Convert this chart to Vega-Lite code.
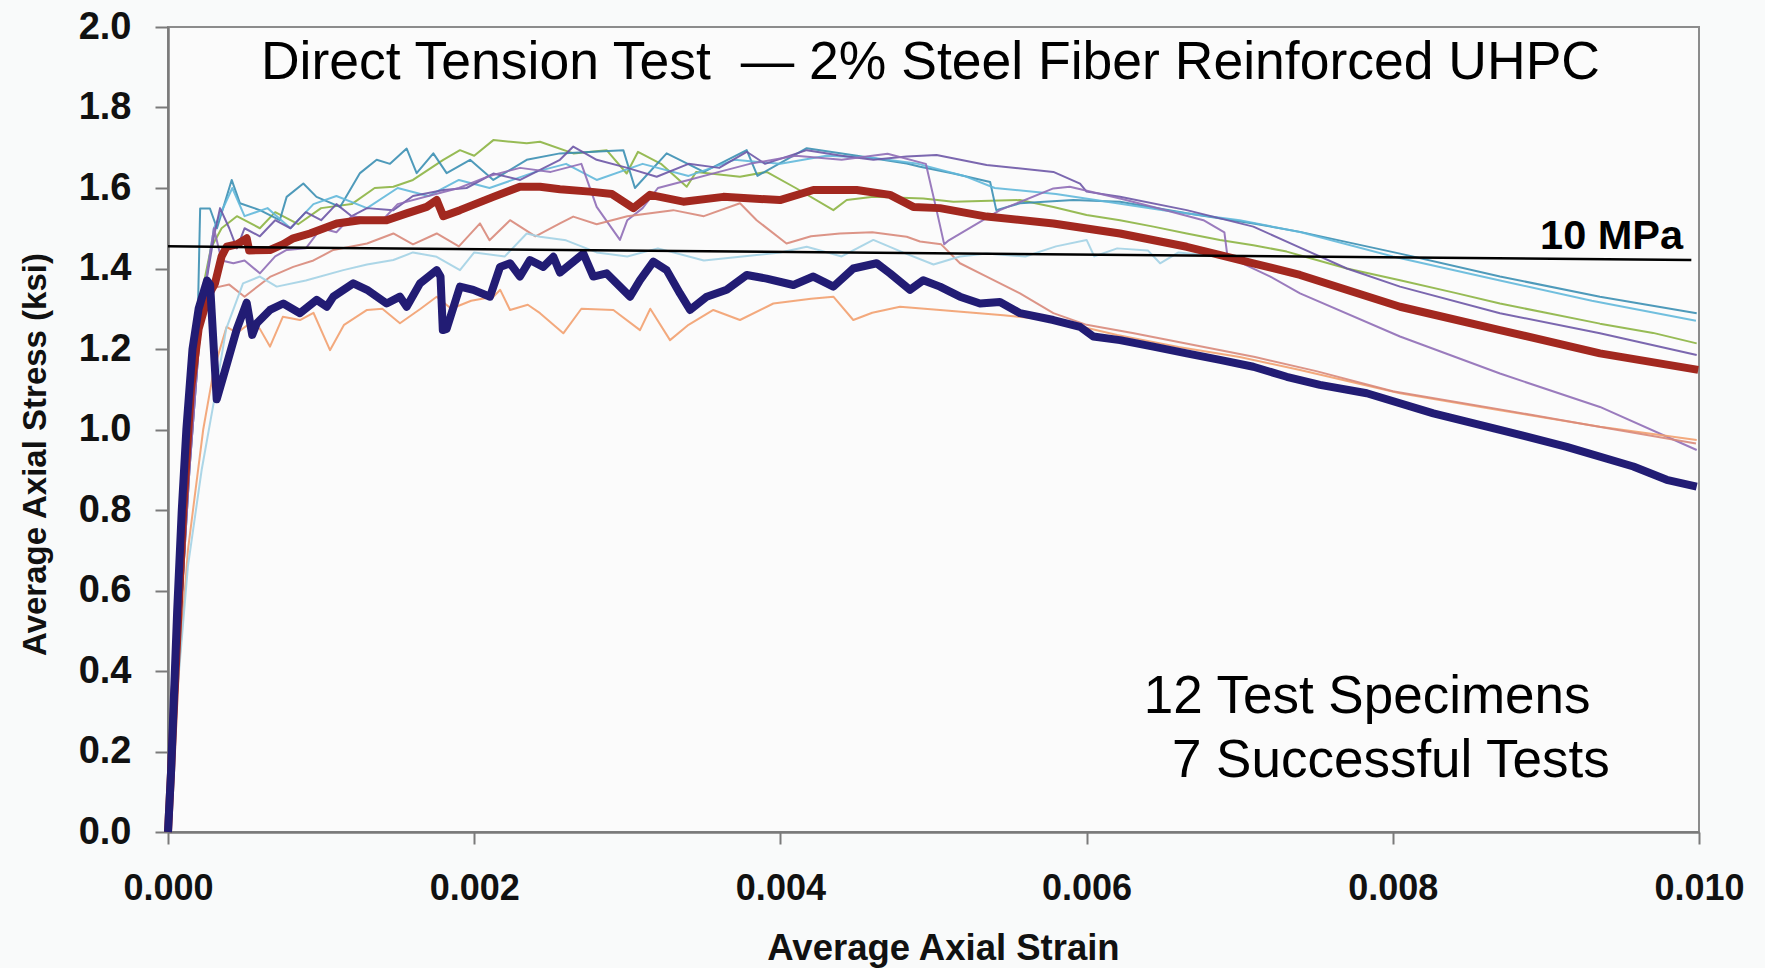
{
  "$schema": "https://vega.github.io/schema/vega-lite/v6.json",
  "width": 1531,
  "height": 805,
  "autosize": {"type": "none"},
  "padding": {"left": 168, "top": 27, "right": 66, "bottom": 136},
  "background": "#f9fafa",
  "config": {
    "view": {"stroke": "#8c8c8c", "strokeWidth": 2, "fill": "#fbfbfb"},
    "font": "Liberation Sans"
  },
  "datasets": {
    "c": [
      {"s":"navy","e":0,"t":0},{"s":"navy","e":0.00002,"t":0.15},{"s":"navy","e":0.00004,"t":0.35},{"s":"navy","e":0.00006,"t":0.55},{"s":"navy","e":0.00009,"t":0.8},{"s":"navy","e":0.00012,"t":1.0},{"s":"navy","e":0.00016,"t":1.2},{"s":"navy","e":0.0002,"t":1.3},{"s":"navy","e":0.000255,"t":1.37},{"s":"navy","e":0.000275,"t":1.36},{"s":"navy","e":0.000318,"t":1.075},{"s":"navy","e":0.00036,"t":1.13},{"s":"navy","e":0.00045,"t":1.25},{"s":"navy","e":0.000514,"t":1.315},{"s":"navy","e":0.00055,"t":1.235},{"s":"navy","e":0.00058,"t":1.264},{"s":"navy","e":0.000666,"t":1.297},{"s":"navy","e":0.000753,"t":1.313},{"s":"navy","e":0.000862,"t":1.289},{"s":"navy","e":0.000971,"t":1.322},{"s":"navy","e":0.001037,"t":1.305},{"s":"navy","e":0.00108,"t":1.33},{"s":"navy","e":0.00121,"t":1.363},{"s":"navy","e":0.0013,"t":1.347},{"s":"navy","e":0.001428,"t":1.313},{"s":"navy","e":0.001515,"t":1.33},{"s":"navy","e":0.001559,"t":1.305},{"s":"navy","e":0.001646,"t":1.363},{"s":"navy","e":0.001755,"t":1.396},{"s":"navy","e":0.00178,"t":1.38},{"s":"navy","e":0.001795,"t":1.247},{"s":"navy","e":0.00182,"t":1.25},{"s":"navy","e":0.001907,"t":1.355},{"s":"navy","e":0.001994,"t":1.347},{"s":"navy","e":0.002103,"t":1.33},{"s":"navy","e":0.002169,"t":1.404},{"s":"navy","e":0.002234,"t":1.413},{"s":"navy","e":0.002299,"t":1.38},{"s":"navy","e":0.002364,"t":1.421},{"s":"navy","e":0.002451,"t":1.404},{"s":"navy","e":0.002517,"t":1.429},{"s":"navy","e":0.00256,"t":1.39},{"s":"navy","e":0.002713,"t":1.437},{"s":"navy","e":0.002778,"t":1.38},{"s":"navy","e":0.002865,"t":1.388},{"s":"navy","e":0.003018,"t":1.33},{"s":"navy","e":0.003083,"t":1.371},{"s":"navy","e":0.00317,"t":1.417},{"s":"navy","e":0.003257,"t":1.396},{"s":"navy","e":0.003344,"t":1.338},{"s":"navy","e":0.00341,"t":1.297},{"s":"navy","e":0.003519,"t":1.33},{"s":"navy","e":0.003649,"t":1.347},{"s":"navy","e":0.00378,"t":1.384},{"s":"navy","e":0.00391,"t":1.375},{"s":"navy","e":0.004085,"t":1.359},{"s":"navy","e":0.004215,"t":1.38},{"s":"navy","e":0.004346,"t":1.355},{"s":"navy","e":0.004476,"t":1.4},{"s":"navy","e":0.004629,"t":1.413},{"s":"navy","e":0.004716,"t":1.388},{"s":"navy","e":0.004847,"t":1.347},{"s":"navy","e":0.004933,"t":1.371},{"s":"navy","e":0.005042,"t":1.355},{"s":"navy","e":0.005173,"t":1.33},{"s":"navy","e":0.005304,"t":1.313},{"s":"navy","e":0.005434,"t":1.317},{"s":"navy","e":0.005565,"t":1.289},{"s":"navy","e":0.005783,"t":1.272},{"s":"navy","e":0.005957,"t":1.255},{"s":"navy","e":0.006044,"t":1.231},{"s":"navy","e":0.006218,"t":1.222},{"s":"navy","e":0.006436,"t":1.206},{"s":"navy","e":0.006654,"t":1.189},{"s":"navy","e":0.006871,"t":1.173},{"s":"navy","e":0.007089,"t":1.156},{"s":"navy","e":0.007307,"t":1.131},{"s":"navy","e":0.007524,"t":1.111},{"s":"navy","e":0.00783,"t":1.09},{"s":"navy","e":0.008265,"t":1.04},{"s":"navy","e":0.0087,"t":0.999},{"s":"navy","e":0.009136,"t":0.957},{"s":"navy","e":0.009571,"t":0.908},{"s":"navy","e":0.009789,"t":0.875},{"s":"navy","e":0.009985,"t":0.858},

      {"s":"red","e":0,"t":0},{"s":"red","e":0.00002,"t":0.15},{"s":"red","e":0.00005,"t":0.4},{"s":"red","e":0.0001,"t":0.8},{"s":"red","e":0.00015,"t":1.1},{"s":"red","e":0.0002,"t":1.25},{"s":"red","e":0.00026,"t":1.33},{"s":"red","e":0.000307,"t":1.363},{"s":"red","e":0.00035,"t":1.43},{"s":"red","e":0.000383,"t":1.454},{"s":"red","e":0.00045,"t":1.46},{"s":"red","e":0.000514,"t":1.475},{"s":"red","e":0.00053,"t":1.445},{"s":"red","e":0.000666,"t":1.446},{"s":"red","e":0.00075,"t":1.46},{"s":"red","e":0.000818,"t":1.475},{"s":"red","e":0.000927,"t":1.487},{"s":"red","e":0.001102,"t":1.512},{"s":"red","e":0.001254,"t":1.52},{"s":"red","e":0.001428,"t":1.52},{"s":"red","e":0.001559,"t":1.537},{"s":"red","e":0.00169,"t":1.553},{"s":"red","e":0.001755,"t":1.57},{"s":"red","e":0.001798,"t":1.53},{"s":"red","e":0.001907,"t":1.545},{"s":"red","e":0.002125,"t":1.578},{"s":"red","e":0.002299,"t":1.603},{"s":"red","e":0.00243,"t":1.603},{"s":"red","e":0.00256,"t":1.597},{"s":"red","e":0.002756,"t":1.591},{"s":"red","e":0.0029,"t":1.585},{"s":"red","e":0.00304,"t":1.55},{"s":"red","e":0.003148,"t":1.583},{"s":"red","e":0.003366,"t":1.566},{"s":"red","e":0.003627,"t":1.578},{"s":"red","e":0.003997,"t":1.57},{"s":"red","e":0.004215,"t":1.595},{"s":"red","e":0.004498,"t":1.595},{"s":"red","e":0.004716,"t":1.583},{"s":"red","e":0.004868,"t":1.553},{"s":"red","e":0.005042,"t":1.55},{"s":"red","e":0.005347,"t":1.529},{"s":"red","e":0.005783,"t":1.512},{"s":"red","e":0.006218,"t":1.487},{"s":"red","e":0.006654,"t":1.454},{"s":"red","e":0.007089,"t":1.413},{"s":"red","e":0.007394,"t":1.384},{"s":"red","e":0.008047,"t":1.305},{"s":"red","e":0.0087,"t":1.247},{"s":"red","e":0.009353,"t":1.189},{"s":"red","e":0.009995,"t":1.148},

      {"s":"green","e":0,"t":0},{"s":"green","e":0.00005,"t":0.4},{"s":"green","e":0.00012,"t":0.95},{"s":"green","e":0.0002,"t":1.3},{"s":"green","e":0.00028,"t":1.45},{"s":"green","e":0.00035,"t":1.5},{"s":"green","e":0.00045,"t":1.53},{"s":"green","e":0.0006,"t":1.5},{"s":"green","e":0.0007,"t":1.54},{"s":"green","e":0.00085,"t":1.51},{"s":"green","e":0.001,"t":1.55},{"s":"green","e":0.0012,"t":1.56},{"s":"green","e":0.00135,"t":1.6},{"s":"green","e":0.001472,"t":1.603},{"s":"green","e":0.0016,"t":1.62},{"s":"green","e":0.001798,"t":1.67},{"s":"green","e":0.001907,"t":1.694},{"s":"green","e":0.002,"t":1.68},{"s":"green","e":0.002125,"t":1.719},{"s":"green","e":0.002343,"t":1.711},{"s":"green","e":0.00243,"t":1.715},{"s":"green","e":0.002647,"t":1.686},{"s":"green","e":0.002865,"t":1.694},{"s":"green","e":0.002996,"t":1.636},{"s":"green","e":0.00307,"t":1.69},{"s":"green","e":0.00322,"t":1.66},{"s":"green","e":0.003388,"t":1.603},{"s":"green","e":0.00345,"t":1.64},{"s":"green","e":0.003736,"t":1.628},{"s":"green","e":0.00391,"t":1.64},{"s":"green","e":0.0041,"t":1.6},{"s":"green","e":0.004346,"t":1.545},{"s":"green","e":0.004433,"t":1.57},{"s":"green","e":0.004607,"t":1.578},{"s":"green","e":0.004933,"t":1.574},{"s":"green","e":0.00513,"t":1.566},{"s":"green","e":0.005565,"t":1.57},{"s":"green","e":0.005783,"t":1.553},{"s":"green","e":0.006,"t":1.533},{"s":"green","e":0.006218,"t":1.52},{"s":"green","e":0.006436,"t":1.504},{"s":"green","e":0.006654,"t":1.487},{"s":"green","e":0.006871,"t":1.471},{"s":"green","e":0.007089,"t":1.458},{"s":"green","e":0.007307,"t":1.442},{"s":"green","e":0.0077,"t":1.4},{"s":"green","e":0.008047,"t":1.371},{"s":"green","e":0.0084,"t":1.34},{"s":"green","e":0.0087,"t":1.313},{"s":"green","e":0.009,"t":1.29},{"s":"green","e":0.009353,"t":1.263},{"s":"green","e":0.0097,"t":1.24},{"s":"green","e":0.009985,"t":1.214},

      {"s":"teal","e":0,"t":0},{"s":"teal","e":0.00005,"t":0.3},{"s":"teal","e":0.00012,"t":0.8},{"s":"teal","e":0.00019,"t":1.2},{"s":"teal","e":0.00021,"t":1.549},{"s":"teal","e":0.000274,"t":1.549},{"s":"teal","e":0.00032,"t":1.5},{"s":"teal","e":0.000416,"t":1.62},{"s":"teal","e":0.00047,"t":1.562},{"s":"teal","e":0.0006,"t":1.545},{"s":"teal","e":0.00073,"t":1.52},{"s":"teal","e":0.000775,"t":1.578},{"s":"teal","e":0.000884,"t":1.611},{"s":"teal","e":0.00097,"t":1.578},{"s":"teal","e":0.001124,"t":1.553},{"s":"teal","e":0.001254,"t":1.637},{"s":"teal","e":0.001363,"t":1.67},{"s":"teal","e":0.00145,"t":1.66},{"s":"teal","e":0.001559,"t":1.698},{"s":"teal","e":0.001624,"t":1.637},{"s":"teal","e":0.001733,"t":1.686},{"s":"teal","e":0.00182,"t":1.637},{"s":"teal","e":0.001973,"t":1.67},{"s":"teal","e":0.002125,"t":1.62},{"s":"teal","e":0.002343,"t":1.67},{"s":"teal","e":0.00256,"t":1.686},{"s":"teal","e":0.002974,"t":1.694},{"s":"teal","e":0.00305,"t":1.6},{"s":"teal","e":0.003257,"t":1.686},{"s":"teal","e":0.0035,"t":1.64},{"s":"teal","e":0.00378,"t":1.694},{"s":"teal","e":0.00385,"t":1.63},{"s":"teal","e":0.004172,"t":1.699},{"s":"teal","e":0.0045,"t":1.68},{"s":"teal","e":0.004825,"t":1.661},{"s":"teal","e":0.004912,"t":1.653},{"s":"teal","e":0.00513,"t":1.636},{"s":"teal","e":0.00537,"t":1.615},{"s":"teal","e":0.00541,"t":1.545},{"s":"teal","e":0.005565,"t":1.562},{"s":"teal","e":0.005913,"t":1.57},{"s":"teal","e":0.006218,"t":1.566},{"s":"teal","e":0.006654,"t":1.537},{"s":"teal","e":0.007089,"t":1.512},{"s":"teal","e":0.007394,"t":1.491},{"s":"teal","e":0.008047,"t":1.437},{"s":"teal","e":0.0087,"t":1.38},{"s":"teal","e":0.009353,"t":1.33},{"s":"teal","e":0.009985,"t":1.289},

      {"s":"cyan","e":0,"t":0},{"s":"cyan","e":0.00006,"t":0.4},{"s":"cyan","e":0.00014,"t":0.9},{"s":"cyan","e":0.00022,"t":1.3},{"s":"cyan","e":0.0003,"t":1.5},{"s":"cyan","e":0.00042,"t":1.6},{"s":"cyan","e":0.0005,"t":1.53},{"s":"cyan","e":0.00065,"t":1.55},{"s":"cyan","e":0.0008,"t":1.5},{"s":"cyan","e":0.00095,"t":1.56},{"s":"cyan","e":0.0011,"t":1.58},{"s":"cyan","e":0.0013,"t":1.55},{"s":"cyan","e":0.0015,"t":1.6},{"s":"cyan","e":0.0017,"t":1.58},{"s":"cyan","e":0.0019,"t":1.62},{"s":"cyan","e":0.0021,"t":1.6},{"s":"cyan","e":0.0024,"t":1.64},{"s":"cyan","e":0.0026,"t":1.66},{"s":"cyan","e":0.0028,"t":1.62},{"s":"cyan","e":0.0031,"t":1.66},{"s":"cyan","e":0.0034,"t":1.63},{"s":"cyan","e":0.0037,"t":1.67},{"s":"cyan","e":0.004,"t":1.66},{"s":"cyan","e":0.0043,"t":1.68},{"s":"cyan","e":0.0046,"t":1.675},{"s":"cyan","e":0.0049,"t":1.66},{"s":"cyan","e":0.0052,"t":1.63},{"s":"cyan","e":0.0054,"t":1.6},{"s":"cyan","e":0.0058,"t":1.585},{"s":"cyan","e":0.0065,"t":1.545},{"s":"cyan","e":0.007,"t":1.52},{"s":"cyan","e":0.0074,"t":1.49},{"s":"cyan","e":0.008,"t":1.43},{"s":"cyan","e":0.0087,"t":1.37},{"s":"cyan","e":0.0093,"t":1.32},{"s":"cyan","e":0.00998,"t":1.27},

      {"s":"purple","e":0,"t":0},{"s":"purple","e":0.00006,"t":0.4},{"s":"purple","e":0.00014,"t":0.9},{"s":"purple","e":0.00022,"t":1.3},{"s":"purple","e":0.0003,"t":1.48},{"s":"purple","e":0.00034,"t":1.55},{"s":"purple","e":0.0004,"t":1.5},{"s":"purple","e":0.00045,"t":1.45},{"s":"purple","e":0.0005,"t":1.5},{"s":"purple","e":0.0006,"t":1.48},{"s":"purple","e":0.0007,"t":1.52},{"s":"purple","e":0.0008,"t":1.5},{"s":"purple","e":0.0009,"t":1.54},{"s":"purple","e":0.001,"t":1.52},{"s":"purple","e":0.0011,"t":1.56},{"s":"purple","e":0.0012,"t":1.53},{"s":"purple","e":0.0013,"t":1.55},{"s":"purple","e":0.001472,"t":1.545},{"s":"purple","e":0.0016,"t":1.58},{"s":"purple","e":0.0018,"t":1.595},{"s":"purple","e":0.00195,"t":1.6},{"s":"purple","e":0.002125,"t":1.636},{"s":"purple","e":0.0023,"t":1.62},{"s":"purple","e":0.00256,"t":1.67},{"s":"purple","e":0.002647,"t":1.703},{"s":"purple","e":0.0028,"t":1.67},{"s":"purple","e":0.003,"t":1.65},{"s":"purple","e":0.003192,"t":1.628},{"s":"purple","e":0.0034,"t":1.66},{"s":"purple","e":0.0036,"t":1.65},{"s":"purple","e":0.00378,"t":1.69},{"s":"purple","e":0.0039,"t":1.66},{"s":"purple","e":0.004172,"t":1.694},{"s":"purple","e":0.0044,"t":1.68},{"s":"purple","e":0.004607,"t":1.67},{"s":"purple","e":0.004825,"t":1.678},{"s":"purple","e":0.00502,"t":1.682},{"s":"purple","e":0.005347,"t":1.657},{"s":"purple","e":0.005783,"t":1.64},{"s":"purple","e":0.005957,"t":1.611},{"s":"purple","e":0.006,"t":1.591},{"s":"purple","e":0.006218,"t":1.578},{"s":"purple","e":0.006654,"t":1.545},{"s":"purple","e":0.007089,"t":1.504},{"s":"purple","e":0.007394,"t":1.452},{"s":"purple","e":0.0077,"t":1.4},{"s":"purple","e":0.008047,"t":1.355},{"s":"purple","e":0.0087,"t":1.289},{"s":"purple","e":0.009353,"t":1.239},{"s":"purple","e":0.009985,"t":1.185},

      {"s":"violet","e":0,"t":0},{"s":"violet","e":0.00006,"t":0.4},{"s":"violet","e":0.00014,"t":0.9},{"s":"violet","e":0.0002,"t":1.2},{"s":"violet","e":0.00026,"t":1.4},{"s":"violet","e":0.0003,"t":1.5},{"s":"violet","e":0.00035,"t":1.42},{"s":"violet","e":0.000427,"t":1.413},{"s":"violet","e":0.0005,"t":1.42},{"s":"violet","e":0.0006,"t":1.388},{"s":"violet","e":0.0007,"t":1.43},{"s":"violet","e":0.000775,"t":1.446},{"s":"violet","e":0.0009,"t":1.45},{"s":"violet","e":0.001,"t":1.5},{"s":"violet","e":0.0011,"t":1.49},{"s":"violet","e":0.0012,"t":1.53},{"s":"violet","e":0.0014,"t":1.52},{"s":"violet","e":0.0015,"t":1.56},{"s":"violet","e":0.0017,"t":1.58},{"s":"violet","e":0.0019,"t":1.6},{"s":"violet","e":0.0021,"t":1.63},{"s":"violet","e":0.0023,"t":1.65},{"s":"violet","e":0.0025,"t":1.64},{"s":"violet","e":0.0027,"t":1.66},{"s":"violet","e":0.0028,"t":1.553},{"s":"violet","e":0.002952,"t":1.471},{"s":"violet","e":0.003,"t":1.52},{"s":"violet","e":0.0031,"t":1.55},{"s":"violet","e":0.0032,"t":1.6},{"s":"violet","e":0.0034,"t":1.62},{"s":"violet","e":0.0036,"t":1.64},{"s":"violet","e":0.0038,"t":1.66},{"s":"violet","e":0.0041,"t":1.68},{"s":"violet","e":0.0044,"t":1.67},{"s":"violet","e":0.0047,"t":1.685},{"s":"violet","e":0.00495,"t":1.66},{"s":"violet","e":0.00502,"t":1.545},{"s":"violet","e":0.00507,"t":1.46},{"s":"violet","e":0.0051,"t":1.47},{"s":"violet","e":0.005434,"t":1.545},{"s":"violet","e":0.005783,"t":1.599},{"s":"violet","e":0.00589,"t":1.603},{"s":"violet","e":0.006218,"t":1.574},{"s":"violet","e":0.006436,"t":1.553},{"s":"violet","e":0.006763,"t":1.52},{"s":"violet","e":0.0069,"t":1.49},{"s":"violet","e":0.00692,"t":1.43},{"s":"violet","e":0.0072,"t":1.38},{"s":"violet","e":0.007394,"t":1.338},{"s":"violet","e":0.008047,"t":1.231},{"s":"violet","e":0.0087,"t":1.139},{"s":"violet","e":0.009353,"t":1.056},{"s":"violet","e":0.009985,"t":0.949},

      {"s":"orange","e":0,"t":0},{"s":"orange","e":0.00006,"t":0.35},{"s":"orange","e":0.00013,"t":0.7},{"s":"orange","e":0.00023,"t":1.0},{"s":"orange","e":0.0003,"t":1.15},{"s":"orange","e":0.000383,"t":1.255},{"s":"orange","e":0.00045,"t":1.24},{"s":"orange","e":0.000536,"t":1.264},{"s":"orange","e":0.0006,"t":1.25},{"s":"orange","e":0.000666,"t":1.206},{"s":"orange","e":0.00075,"t":1.28},{"s":"orange","e":0.000862,"t":1.272},{"s":"orange","e":0.00095,"t":1.29},{"s":"orange","e":0.001058,"t":1.197},{"s":"orange","e":0.00115,"t":1.26},{"s":"orange","e":0.0013,"t":1.297},{"s":"orange","e":0.0014,"t":1.3},{"s":"orange","e":0.001515,"t":1.264},{"s":"orange","e":0.00165,"t":1.3},{"s":"orange","e":0.001755,"t":1.33},{"s":"orange","e":0.00185,"t":1.3},{"s":"orange","e":0.00198,"t":1.32},{"s":"orange","e":0.002125,"t":1.33},{"s":"orange","e":0.00217,"t":1.347},{"s":"orange","e":0.002234,"t":1.297},{"s":"orange","e":0.00235,"t":1.31},{"s":"orange","e":0.00243,"t":1.289},{"s":"orange","e":0.002582,"t":1.239},{"s":"orange","e":0.0027,"t":1.3},{"s":"orange","e":0.002909,"t":1.297},{"s":"orange","e":0.003083,"t":1.247},{"s":"orange","e":0.00315,"t":1.3},{"s":"orange","e":0.003279,"t":1.222},{"s":"orange","e":0.0034,"t":1.26},{"s":"orange","e":0.003562,"t":1.297},{"s":"orange","e":0.003736,"t":1.272},{"s":"orange","e":0.003954,"t":1.313},{"s":"orange","e":0.0042,"t":1.325},{"s":"orange","e":0.004346,"t":1.33},{"s":"orange","e":0.004476,"t":1.272},{"s":"orange","e":0.0046,"t":1.29},{"s":"orange","e":0.004781,"t":1.305},{"s":"orange","e":0.005042,"t":1.297},{"s":"orange","e":0.005456,"t":1.284},{"s":"orange","e":0.0058,"t":1.27},{"s":"orange","e":0.0062,"t":1.235},{"s":"orange","e":0.0066,"t":1.205},{"s":"orange","e":0.007,"t":1.18},{"s":"orange","e":0.007394,"t":1.148},{"s":"orange","e":0.008047,"t":1.09},{"s":"orange","e":0.0087,"t":1.048},{"s":"orange","e":0.009353,"t":1.007},{"s":"orange","e":0.009985,"t":0.974},

      {"s":"salmon","e":0,"t":0},{"s":"salmon","e":0.00005,"t":0.4},{"s":"salmon","e":0.00012,"t":0.9},{"s":"salmon","e":0.0002,"t":1.25},{"s":"salmon","e":0.00028,"t":1.35},{"s":"salmon","e":0.0004,"t":1.36},{"s":"salmon","e":0.0005,"t":1.33},{"s":"salmon","e":0.000666,"t":1.379},{"s":"salmon","e":0.000818,"t":1.404},{"s":"salmon","e":0.00095,"t":1.42},{"s":"salmon","e":0.00108,"t":1.446},{"s":"salmon","e":0.0013,"t":1.462},{"s":"salmon","e":0.001472,"t":1.487},{"s":"salmon","e":0.0016,"t":1.46},{"s":"salmon","e":0.001755,"t":1.487},{"s":"salmon","e":0.0019,"t":1.455},{"s":"salmon","e":0.002038,"t":1.512},{"s":"salmon","e":0.0021,"t":1.47},{"s":"salmon","e":0.002234,"t":1.52},{"s":"salmon","e":0.0024,"t":1.48},{"s":"salmon","e":0.00256,"t":1.512},{"s":"salmon","e":0.002647,"t":1.529},{"s":"salmon","e":0.0028,"t":1.51},{"s":"salmon","e":0.003,"t":1.53},{"s":"salmon","e":0.0033,"t":1.545},{"s":"salmon","e":0.0035,"t":1.53},{"s":"salmon","e":0.003736,"t":1.562},{"s":"salmon","e":0.003845,"t":1.52},{"s":"salmon","e":0.00404,"t":1.462},{"s":"salmon","e":0.0042,"t":1.48},{"s":"salmon","e":0.004389,"t":1.487},{"s":"salmon","e":0.0046,"t":1.49},{"s":"salmon","e":0.004825,"t":1.479},{"s":"salmon","e":0.004912,"t":1.467},{"s":"salmon","e":0.00505,"t":1.46},{"s":"salmon","e":0.005173,"t":1.413},{"s":"salmon","e":0.005347,"t":1.38},{"s":"salmon","e":0.005565,"t":1.338},{"s":"salmon","e":0.005783,"t":1.289},{"s":"salmon","e":0.006,"t":1.26},{"s":"salmon","e":0.0063,"t":1.24},{"s":"salmon","e":0.0067,"t":1.21},{"s":"salmon","e":0.0071,"t":1.18},{"s":"salmon","e":0.0075,"t":1.145},{"s":"salmon","e":0.008,"t":1.095},{"s":"salmon","e":0.0087,"t":1.05},{"s":"salmon","e":0.0093,"t":1.01},{"s":"salmon","e":0.00998,"t":0.965},

      {"s":"lightblue","e":0,"t":0},{"s":"lightblue","e":0.00005,"t":0.3},{"s":"lightblue","e":0.00013,"t":0.66},{"s":"lightblue","e":0.00022,"t":0.9},{"s":"lightblue","e":0.0003,"t":1.07},{"s":"lightblue","e":0.00038,"t":1.25},{"s":"lightblue","e":0.00049,"t":1.363},{"s":"lightblue","e":0.0006,"t":1.38},{"s":"lightblue","e":0.00071,"t":1.355},{"s":"lightblue","e":0.0009,"t":1.37},{"s":"lightblue","e":0.001145,"t":1.396},{"s":"lightblue","e":0.0013,"t":1.41},{"s":"lightblue","e":0.001472,"t":1.421},{"s":"lightblue","e":0.0016,"t":1.44},{"s":"lightblue","e":0.001755,"t":1.429},{"s":"lightblue","e":0.001907,"t":1.396},{"s":"lightblue","e":0.002,"t":1.44},{"s":"lightblue","e":0.0022,"t":1.43},{"s":"lightblue","e":0.002343,"t":1.487},{"s":"lightblue","e":0.00243,"t":1.479},{"s":"lightblue","e":0.0026,"t":1.47},{"s":"lightblue","e":0.0028,"t":1.44},{"s":"lightblue","e":0.003,"t":1.43},{"s":"lightblue","e":0.0032,"t":1.45},{"s":"lightblue","e":0.0035,"t":1.42},{"s":"lightblue","e":0.003736,"t":1.429},{"s":"lightblue","e":0.004,"t":1.44},{"s":"lightblue","e":0.004172,"t":1.454},{"s":"lightblue","e":0.0044,"t":1.43},{"s":"lightblue","e":0.004607,"t":1.471},{"s":"lightblue","e":0.0048,"t":1.44},{"s":"lightblue","e":0.005,"t":1.41},{"s":"lightblue","e":0.005173,"t":1.43},{"s":"lightblue","e":0.005347,"t":1.437},{"s":"lightblue","e":0.0056,"t":1.43},{"s":"lightblue","e":0.0058,"t":1.455},{"s":"lightblue","e":0.006,"t":1.471},{"s":"lightblue","e":0.00605,"t":1.43},{"s":"lightblue","e":0.0062,"t":1.45},{"s":"lightblue","e":0.0064,"t":1.445},{"s":"lightblue","e":0.00648,"t":1.413},{"s":"lightblue","e":0.0066,"t":1.44},{"s":"lightblue","e":0.00687,"t":1.43}
    ]
  },
  "layer": [
    {
      "data": {"name": "c"},
      "transform": [{"filter": "datum.s !== 'navy' && datum.s !== 'red'"}],
      "mark": {"type": "line", "strokeWidth": 2, "strokeJoin": "round", "opacity": 0.9},
      "encoding": {
        "x": {"field": "e", "type": "quantitative",
          "scale": {"domain": [0, 0.01], "nice": false, "zero": false},
          "axis": {
            "values": [0, 0.002, 0.004, 0.006, 0.008, 0.01], "format": ".3f",
            "grid": false, "labelFlush": false, "labelOverlap": false,
            "domainColor": "#7a7a7a", "domainWidth": 2.5,
            "tickColor": "#7a7a7a", "tickWidth": 2, "tickSize": 12,
            "labelFont": "Liberation Sans", "labelFontWeight": "bold", "labelFontSize": 36, "labelColor": "#111111", "labelPadding": 27,
            "title": "Average Axial Strain", "titleFont": "Liberation Sans", "titleFontWeight": "bold", "titleFontSize": 36.5, "titleColor": "#111111",
            "titleX": 775, "titleY": 127, "titleAlign": "center", "titleBaseline": "alphabetic", "titleAnchor": null
          }
        },
        "y": {"field": "t", "type": "quantitative",
          "scale": {"domain": [0, 2], "nice": false, "zero": false},
          "axis": {
            "values": [0, 0.2, 0.4, 0.6, 0.8, 1.0, 1.2, 1.4, 1.6, 1.8, 2.0], "format": ".1f",
            "grid": false, "labelOverlap": false,
            "domainColor": "#7a7a7a", "domainWidth": 2.5,
            "tickColor": "#7a7a7a", "tickWidth": 2, "tickSize": 13,
            "labelFont": "Liberation Sans", "labelFontWeight": "bold", "labelFontSize": 38, "labelColor": "#111111", "labelPadding": 24,
            "title": "Average Axial Stress (ksi)", "titleFont": "Liberation Sans", "titleFontWeight": "bold", "titleFontSize": 33, "titleColor": "#111111",
            "titleX": -123, "titleY": 427, "titleAngle": -90, "titleAlign": "center", "titleBaseline": "alphabetic"
          }
        },
        "color": {"field": "s", "type": "nominal", "legend": null,
          "scale": {
            "domain": ["lightblue", "cyan", "teal", "green", "purple", "violet", "salmon", "orange", "red", "navy"],
            "range": ["#a3d2e4", "#62b8da", "#3b8fb3", "#8cb443", "#6d56a6", "#8f6db6", "#d8887a", "#f2a06f", "#a2281f", "#221c74"]
          }
        }
      }
    },
    {
      "data": {"name": "c"},
      "transform": [{"filter": "datum.s === 'red'"}],
      "mark": {"type": "line", "strokeWidth": 8, "strokeJoin": "round", "color": "#a2281f"},
      "encoding": {
        "x": {"field": "e", "type": "quantitative"},
        "y": {"field": "t", "type": "quantitative"}
      }
    },
    {
      "data": {"name": "c"},
      "transform": [{"filter": "datum.s === 'navy'"}],
      "mark": {"type": "line", "strokeWidth": 8, "strokeJoin": "round", "color": "#221c74"},
      "encoding": {
        "x": {"field": "e", "type": "quantitative"},
        "y": {"field": "t", "type": "quantitative"}
      }
    },
    {
      "data": {"values": [{"x1": 0, "y1": 1.455, "x2": 0.00995, "y2": 1.421}]},
      "mark": {"type": "rule", "color": "#000000", "strokeWidth": 2.5},
      "encoding": {
        "x": {"field": "x1", "type": "quantitative"},
        "y": {"field": "y1", "type": "quantitative"},
        "x2": {"field": "x2"},
        "y2": {"field": "y2"}
      }
    },
    {
      "data": {"values": [{"label": "Direct Tension Test\u00a0 \u2014 2% Steel Fiber Reinforced UHPC", "x": 0.00498, "y": 1.871}]},
      "mark": {"type": "text", "font": "Liberation Sans", "fontSize": 53.5, "align": "center", "baseline": "alphabetic", "color": "#000000"},
      "encoding": {
        "x": {"field": "x", "type": "quantitative"},
        "y": {"field": "y", "type": "quantitative"},
        "text": {"field": "label"}
      }
    },
    {
      "data": {"values": [
        {"label": "12 Test Specimens", "x": 0.006373, "y": 0.2966},
        {"label": "7 Successful Tests", "x": 0.006557, "y": 0.1374}
      ]},
      "mark": {"type": "text", "font": "Liberation Sans", "fontSize": 53, "align": "left", "baseline": "alphabetic", "color": "#000000"},
      "encoding": {
        "x": {"field": "x", "type": "quantitative"},
        "y": {"field": "y", "type": "quantitative"},
        "text": {"field": "label"}
      }
    },
    {
      "data": {"values": [{"label": "10 MPa", "x": 0.009896, "y": 1.449}]},
      "mark": {"type": "text", "font": "Liberation Sans", "fontWeight": "bold", "fontSize": 41.5, "align": "right", "baseline": "alphabetic", "color": "#000000"},
      "encoding": {
        "x": {"field": "x", "type": "quantitative"},
        "y": {"field": "y", "type": "quantitative"},
        "text": {"field": "label"}
      }
    }
  ]
}
